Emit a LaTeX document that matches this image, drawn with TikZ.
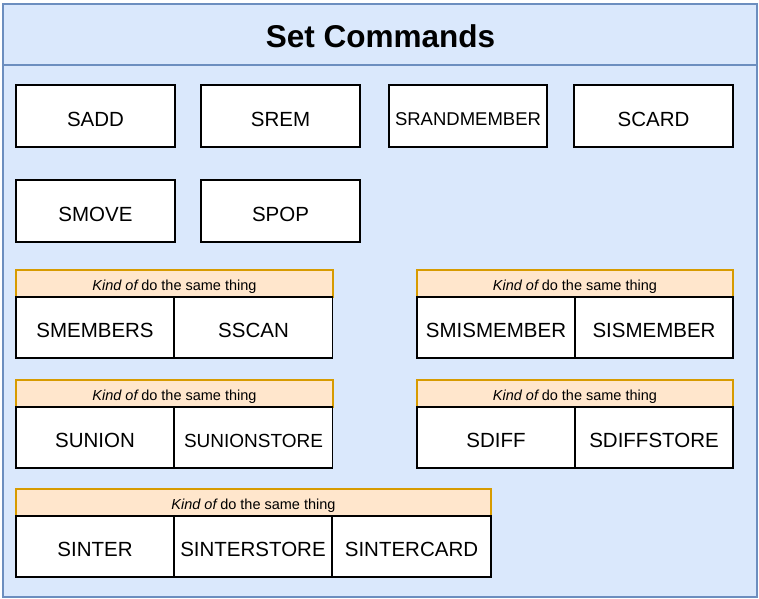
\documentclass[tikz,border=0pt]{standalone}
\usepackage{fontspec}
\setmainfont{Liberation Sans}
\definecolor{contfill}{HTML}{DAE8FC}
\definecolor{contline}{HTML}{6C8EBF}
\definecolor{hdrfill}{HTML}{FFE6CC}
\definecolor{hdrline}{HTML}{D79B00}
\tikzset{
  cmd/.style={draw=black, fill=white, line width=1.6pt, minimum width=159pt, minimum height=62pt, inner sep=0pt, text height=20.7pt, text depth=0pt, font=\fontsize{20.5}{24}\selectfont},
  gcell/.style={cmd, minimum width=158pt, minimum height=61pt},
  hdr/.style={draw=hdrline, fill=hdrfill, line width=1.2pt, minimum height=27pt, inner sep=0pt, text height=13.4pt, text depth=0pt, font=\fontsize{14.5}{17}\selectfont},
  cont/.style={draw=contline, fill=contfill, line width=1.4pt},
  titletext/.style={font=\bfseries\fontsize{31.5}{36}\selectfont, inner sep=0pt}
}
\begin{document}
\begin{tikzpicture}[x=1pt,y=-1pt]
\useasboundingbox (0,0) rectangle (759,598);
% container
\draw[cont] (3,4) rectangle (757,597);
\draw[draw=contline, line width=1.4pt] (3,65) -- (757,65);
\node[titletext] (title) at (380.5,36.5) {Set Commands};
% single commands
\node[cmd] (sadd) at (95.5,116) {SADD};
\node[cmd] (srem) at (280.5,116) {SREM};
\node[cmd, minimum width=158pt, text height=19.2pt, font=\fontsize{18.5}{22}\selectfont] (srand) at (468,116) {SRANDMEMBER};
\node[cmd] (scard) at (653.5,116) {SCARD};
\node[cmd] (smove) at (95.5,211) {SMOVE};
\node[cmd] (spop) at (280.5,211) {SPOP};
% group 1
\node[hdr, minimum width=317pt] (h1) at (174.5,283.5) {\textit{Kind of}\,do the same thing};
\node[gcell] (smembers) at (95,327.5) {SMEMBERS};
\node[gcell] (sscan) at (253.5,327.5) {SSCAN};
% group 2
\node[hdr, minimum width=316pt] (h2) at (575,283.5) {\textit{Kind of}\,do the same thing};
\node[gcell] (smismember) at (496,327.5) {SMISMEMBER};
\node[gcell] (sismember) at (654,327.5) {SISMEMBER};
% group 3
\node[hdr, minimum width=317pt] (h3) at (174.5,393.5) {\textit{Kind of}\,do the same thing};
\node[gcell] (sunion) at (95,437.5) {SUNION};
\node[gcell, text height=19.6pt, font=\fontsize{19}{22}\selectfont] (sunionstore) at (253.5,437.5) {SUNIONSTORE};
% group 4
\node[hdr, minimum width=316pt] (h4) at (575,393.5) {\textit{Kind of}\,do the same thing};
\node[gcell] (sdiff) at (496,437.5) {SDIFF};
\node[gcell] (sdiffstore) at (654,437.5) {SDIFFSTORE};
% group 5
\node[hdr, minimum width=475pt] (h5) at (253.5,502.5) {\textit{Kind of}\,do the same thing};
\node[gcell] (sinter) at (95,546.5) {SINTER};
\node[gcell] (sinterstore) at (253,546.5) {SINTERSTORE};
\node[gcell, minimum width=159pt] (sintercard) at (411.5,546.5) {SINTERCARD};
\end{tikzpicture}
\end{document}
